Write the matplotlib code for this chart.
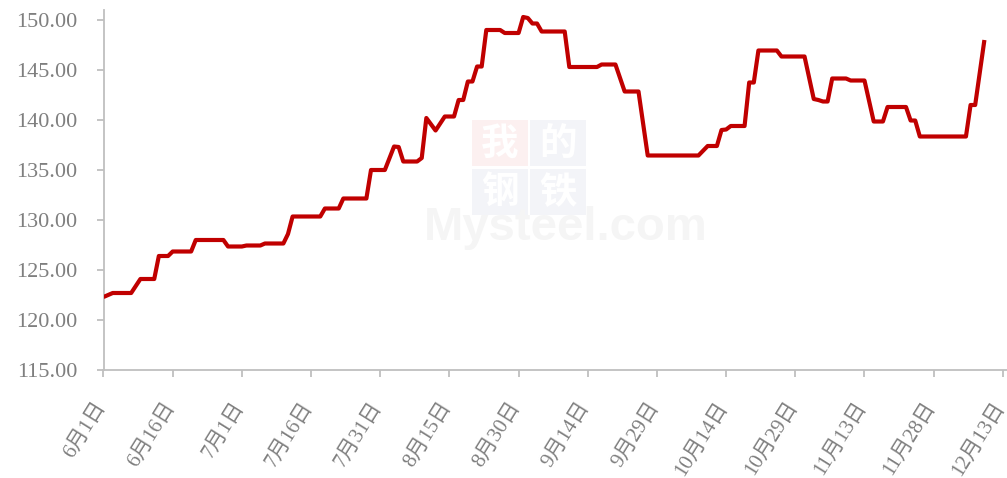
import matplotlib
matplotlib.use("Agg")
import matplotlib.pyplot as plt
import matplotlib.transforms as mtransforms
from matplotlib.patches import Rectangle
import pandas as pd

plt.rcParams["font.family"] = ["Liberation Serif", "Noto Sans CJK SC", "DejaVu Sans"]

# price series (vertices of the line, MM-DD)
dates = [
    "06-01", "06-03", "06-07", "06-08", "06-09", "06-12", "06-13", "06-15",
    "06-16", "06-20", "06-21", "06-27", "06-28", "07-01", "07-02", "07-05",
    "07-06", "07-10", "07-11", "07-12", "07-18", "07-19", "07-22", "07-23",
    "07-28", "07-29", "08-01", "08-03", "08-04", "08-05", "08-08", "08-09",
    "08-10", "08-12", "08-14", "08-16", "08-17", "08-18", "08-19", "08-20",
    "08-21", "08-22", "08-23", "08-26", "08-27", "08-30", "08-31", "09-01",
    "09-02", "09-03", "09-04", "09-09", "09-10", "09-16", "09-17", "09-20",
    "09-22", "09-25", "09-27", "10-08", "10-10", "10-12", "10-13", "10-14",
    "10-15", "10-18", "10-19", "10-20", "10-21", "10-25", "10-26", "10-31",
    "11-02", "11-03", "11-04", "11-05", "11-06", "11-09", "11-10", "11-13",
    "11-15", "11-17", "11-18", "11-22", "11-23", "11-24", "11-25", "12-05",
    "12-06", "12-07", "12-09",
]
prices = [
    122.30, 122.70, 122.70, 123.40, 124.10, 124.10, 126.40, 126.40,
    126.85, 126.85, 128.00, 128.00, 127.35, 127.35, 127.45, 127.45,
    127.65, 127.65, 128.60, 130.35, 130.35, 131.15, 131.15, 132.15,
    132.15, 135.00, 135.00, 137.35, 137.30, 135.85, 135.85, 136.20,
    140.20, 138.95, 140.35, 140.35, 142.00, 142.00, 143.85, 143.85,
    145.35, 145.35, 149.00, 149.00, 148.70, 148.70, 150.30, 150.20,
    149.65, 149.65, 148.85, 148.85, 145.30, 145.30, 145.55, 145.55,
    142.85, 142.85, 136.45, 136.45, 137.40, 137.40, 139.00, 139.05,
    139.40, 139.40, 143.75, 143.75, 146.95, 146.95, 146.35, 146.35,
    142.10, 142.00, 141.85, 141.85, 144.15, 144.15, 143.95, 143.95,
    139.85, 139.85, 141.30, 141.30, 139.95, 139.95, 138.35, 138.35,
    141.50, 141.50, 148.00,
]

tick_dates = [
    "06-01", "06-16", "07-01", "07-16", "07-31", "08-15", "08-30",
    "09-14", "09-29", "10-14", "10-29", "11-13", "11-28", "12-13",
]
tick_labels = [
    "6月1日", "6月16日", "7月1日", "7月16日", "7月31日", "8月15日", "8月30日",
    "9月14日", "9月29日", "10月14日", "10月29日", "11月13日", "11月28日", "12月13日",
]
y_ticks = [115, 120, 125, 130, 135, 140, 145, 150]

YEAR = "2023-"
x = pd.to_datetime([YEAR + d for d in dates])
xt = pd.to_datetime([YEAR + d for d in tick_dates])

W, H = 1007, 478
fig = plt.figure(figsize=(W / 100, H / 100), dpi=100)
ax = fig.add_axes([103.5 / W, 1 - 370 / H, (W - 103.5) / W, 360 / H])

ax.plot(x, prices, color="#C00000", linewidth=3.0, solid_joinstyle="round",
        solid_capstyle="butt", zorder=3)

x0 = pd.Timestamp(YEAR + "06-01")
ax.set_xlim(x0, x0 + pd.Timedelta(days=195.9))
ax.set_ylim(115, 151)

grey = "#BFBFBF"
text_grey = "#7F7F7F"
for s in ["top", "right"]:
    ax.spines[s].set_visible(False)
for s in ["left", "bottom"]:
    ax.spines[s].set_color(grey)
    ax.spines[s].set_linewidth(1.3)

ax.set_yticks(y_ticks)
ax.set_yticklabels([f"{v:.2f}" for v in y_ticks])
ax.set_xticks(xt)
ax.set_xticklabels(tick_labels, rotation=58, ha="right", va="center",
                   rotation_mode="anchor")
ax.tick_params(axis="both", colors=grey, length=5, width=1.3,
               labelcolor=text_grey, labelsize=16)
ax.tick_params(axis="x", labelsize=15, pad=19)
ax.tick_params(axis="y", pad=14)

# small sideways nudge so the last date still fits inside the figure
shift = mtransforms.ScaledTranslation(-2 / 100, 0, fig.dpi_scale_trans)
for lbl in ax.get_xticklabels():
    lbl.set_transform(lbl.get_transform() + shift)

# faint watermark behind the line
wm_boxes = [
    ("我", 472, 120, "#FCF0F0"),
    ("的", 530, 120, "#F3F4F8"),
    ("钢", 472, 169, "#F3F4F8"),
    ("铁", 530, 169, "#F3F4F8"),
]
bw, bh = 56, 46
for ch, px, py, fc in wm_boxes:
    ax.add_patch(Rectangle((px / W, 1 - (py + bh) / H), bw / W, bh / H,
                           transform=fig.transFigure, facecolor=fc,
                           edgecolor="none", zorder=0.4, clip_on=False))
    ax.text((px + bw / 2) / W, 1 - (py + bh / 2) / H, ch, transform=fig.transFigure,
            ha="center", va="center", fontsize=27, color="white",
            family=["Noto Sans CJK SC"], fontweight="bold", zorder=0.5)
ax.text(566 / W, 1 - 228 / H, "Mysteel.com", transform=fig.transFigure,
        ha="center", va="center", fontsize=34, color="#F5F5F5",
        family=["Liberation Sans"], fontweight="bold", zorder=0.6)

fig.savefig("out.png", dpi=100)
